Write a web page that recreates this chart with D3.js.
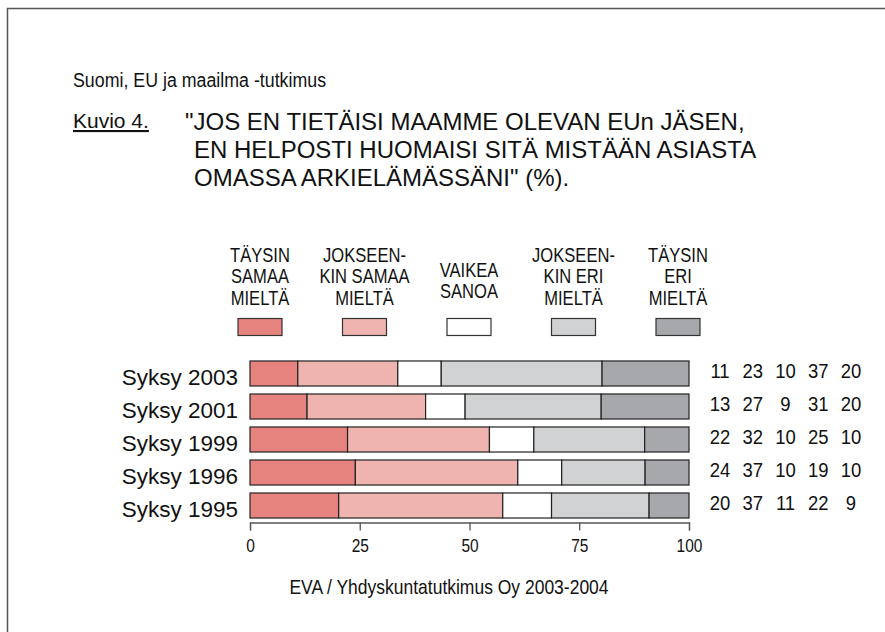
<!DOCTYPE html>
<html>
<head>
<meta charset="utf-8">
<script src="https://cdn.jsdelivr.net/npm/d3@7"></script>
<style>
  body { margin: 0; background: #fff; }
  text { font-family: "Liberation Sans", Arial, sans-serif; fill: #111; }
  .axis text { font-family: "Liberation Sans", Arial, sans-serif; font-size: 15.5px; fill: #111; }
  .axis path, .axis line { stroke: #555; stroke-width: 1.3px; }
</style>
</head>
<body>
<div class="chart"></div>
<script>
// survey rounds (top to bottom)
var years = ["Syksy 2003", "Syksy 2001", "Syksy 1999", "Syksy 1996", "Syksy 1995"];

// answer categories, legend labels split per line
var answers = ["tays_samaa", "jok_samaa", "vaikea", "jok_eri", "tays_eri"];
var answerLabels = [
  ["TÄYSIN", "SAMAA", "MIELTÄ"],
  ["JOKSEEN-", "KIN SAMAA", "MIELTÄ"],
  ["VAIKEA", "SANOA"],
  ["JOKSEEN-", "KIN ERI", "MIELTÄ"],
  ["TÄYSIN", "ERI", "MIELTÄ"]
];
var answerColors = ["#e7837f", "#efb4af", "#ffffff", "#d1d2d4", "#a7a8ab"];

// percentages per year, same order as answers
var values2003 = [11, 23, 10, 37, 20];
var values2001 = [13, 27, 9, 31, 20];
var values1999 = [22, 32, 10, 25, 10];
var values1996 = [24, 37, 10, 19, 10];
var values1995 = [20, 37, 11, 22, 9];
var allValues = [values2003, values2001, values1999, values1996, values1995];

var xTicks = [0, 25, 50, 75, 100];

var svg = d3.select(".chart").append("svg").attr("width", 885).attr("height", 632);

// the original lettering is a bit condensed / tall, so texts get a scale
function label(parent, px, py, sx, sy) {
    return parent.append("text")
        .attr("transform", `translate(${px},${py}) scale(${sx},${sy})`);
}

// frame (runs off the right and bottom edges)
svg.append("rect")
    .attr("x", 7.5).attr("y", 8.5)
    .attr("width", 1000).attr("height", 1000)
    .attr("fill", "none").attr("stroke", "#555").attr("stroke-width", 1.5);

label(svg, 73, 87, 0.89, 1.05)
    .style("font-size", "20px")
    .text("Suomi, EU ja maailma -tutkimus");

svg.append("text")
    .attr("x", 73).attr("y", 128)
    .style("font-size", "21px")
    .style("text-decoration", "underline")
    .text("Kuvio 4.");

var heading = [
  "\"JOS EN TIETÄISI MAAMME OLEVAN EUn JÄSEN,",
  "EN HELPOSTI HUOMAISI SITÄ MISTÄÄN ASIASTA",
  "OMASSA ARKIELÄMÄSSÄNI\" (%)."
];
heading.forEach((line, i) => {
    label(svg, i == 0 ? 185 : 194, 130 + i * 28, 1, 1.02)
        .style("font-size", "24px")
        .text(line);
});

// scales
var x = d3.scaleLinear().domain([0, 100]).range([250, 689]);
var y = d3.scaleBand().domain(years).range([357, 522]).paddingInner(0.242).paddingOuter(0.121);
var legendX = d3.scalePoint().domain(answers).range([260, 678]);
var numX = d3.scalePoint().domain(d3.range(5)).range([720, 851]);

// legend
answers.forEach((a, i) => {
    var lines = answerLabels[i];
    lines.forEach((line, j) => {
        label(svg, legendX(a), 261.7 + (3 - lines.length) * 15 + j * 21.6, 0.85, 1.02)
            .attr("text-anchor", "middle")
            .style("font-size", "19.5px")
            .text(line);
    });
});
svg.selectAll(".legbox").data(answers).enter().append("rect")
    .attr("class", "legbox")
    .attr("x", a => legendX(a) - 22)
    .attr("y", 318.5)
    .attr("width", 44)
    .attr("height", 17)
    .attr("fill", (a, i) => answerColors[i])
    .attr("stroke", "#333").attr("stroke-width", 1.2);

// stacked bars, scaled so each row fills 0..100
var rows = years.map((yr, i) => {
    var total = d3.sum(allValues[i]);
    var row = {year: yr};
    answers.forEach((a, j) => row[a] = allValues[i][j] / total * 100);
    return row;
});
var series = d3.stack().keys(answers)(rows);

svg.append("g").selectAll("g")
    .data(series).enter().append("g")
      .attr("fill", (s, i) => answerColors[i])
    .selectAll("rect")
    .data(s => s).enter().append("rect")
      .attr("x", d => x(d[0]))
      .attr("y", d => y(d.data.year))
      .attr("width", d => x(d[1]) - x(d[0]))
      .attr("height", y.bandwidth())
      .attr("stroke", "#222").attr("stroke-width", 1.2);

// row labels
svg.selectAll(".rowlab").data(years).enter().append("text")
    .attr("class", "rowlab")
    .attr("x", 238)
    .attr("y", d => y(d) + y.bandwidth() / 2 + 11.5)
    .attr("text-anchor", "end")
    .style("font-size", "22.5px")
    .text(d => d);

// numbers on the right
years.forEach((yr, i) => {
    allValues[i].forEach((v, j) => {
        label(svg, numX(j), y(yr) + y.bandwidth() / 2 + 4.8, 1, 1.12)
            .attr("text-anchor", "middle")
            .style("font-size", "18.5px")
            .text(v);
    });
});

// x axis
var axis = svg.append("g")
    .attr("class", "axis")
    .attr("transform", "translate(0,522.5)")
    .call(d3.axisBottom(x).tickValues(xTicks).tickSize(8).tickPadding(7));
axis.selectAll(".tick text").attr("transform", "scale(1,1.15)");

label(svg, 449, 594, 1, 1.12)
    .attr("text-anchor", "middle")
    .style("font-size", "17.5px")
    .text("EVA / Yhdyskuntatutkimus Oy 2003-2004");
</script>
</body>
</html>
